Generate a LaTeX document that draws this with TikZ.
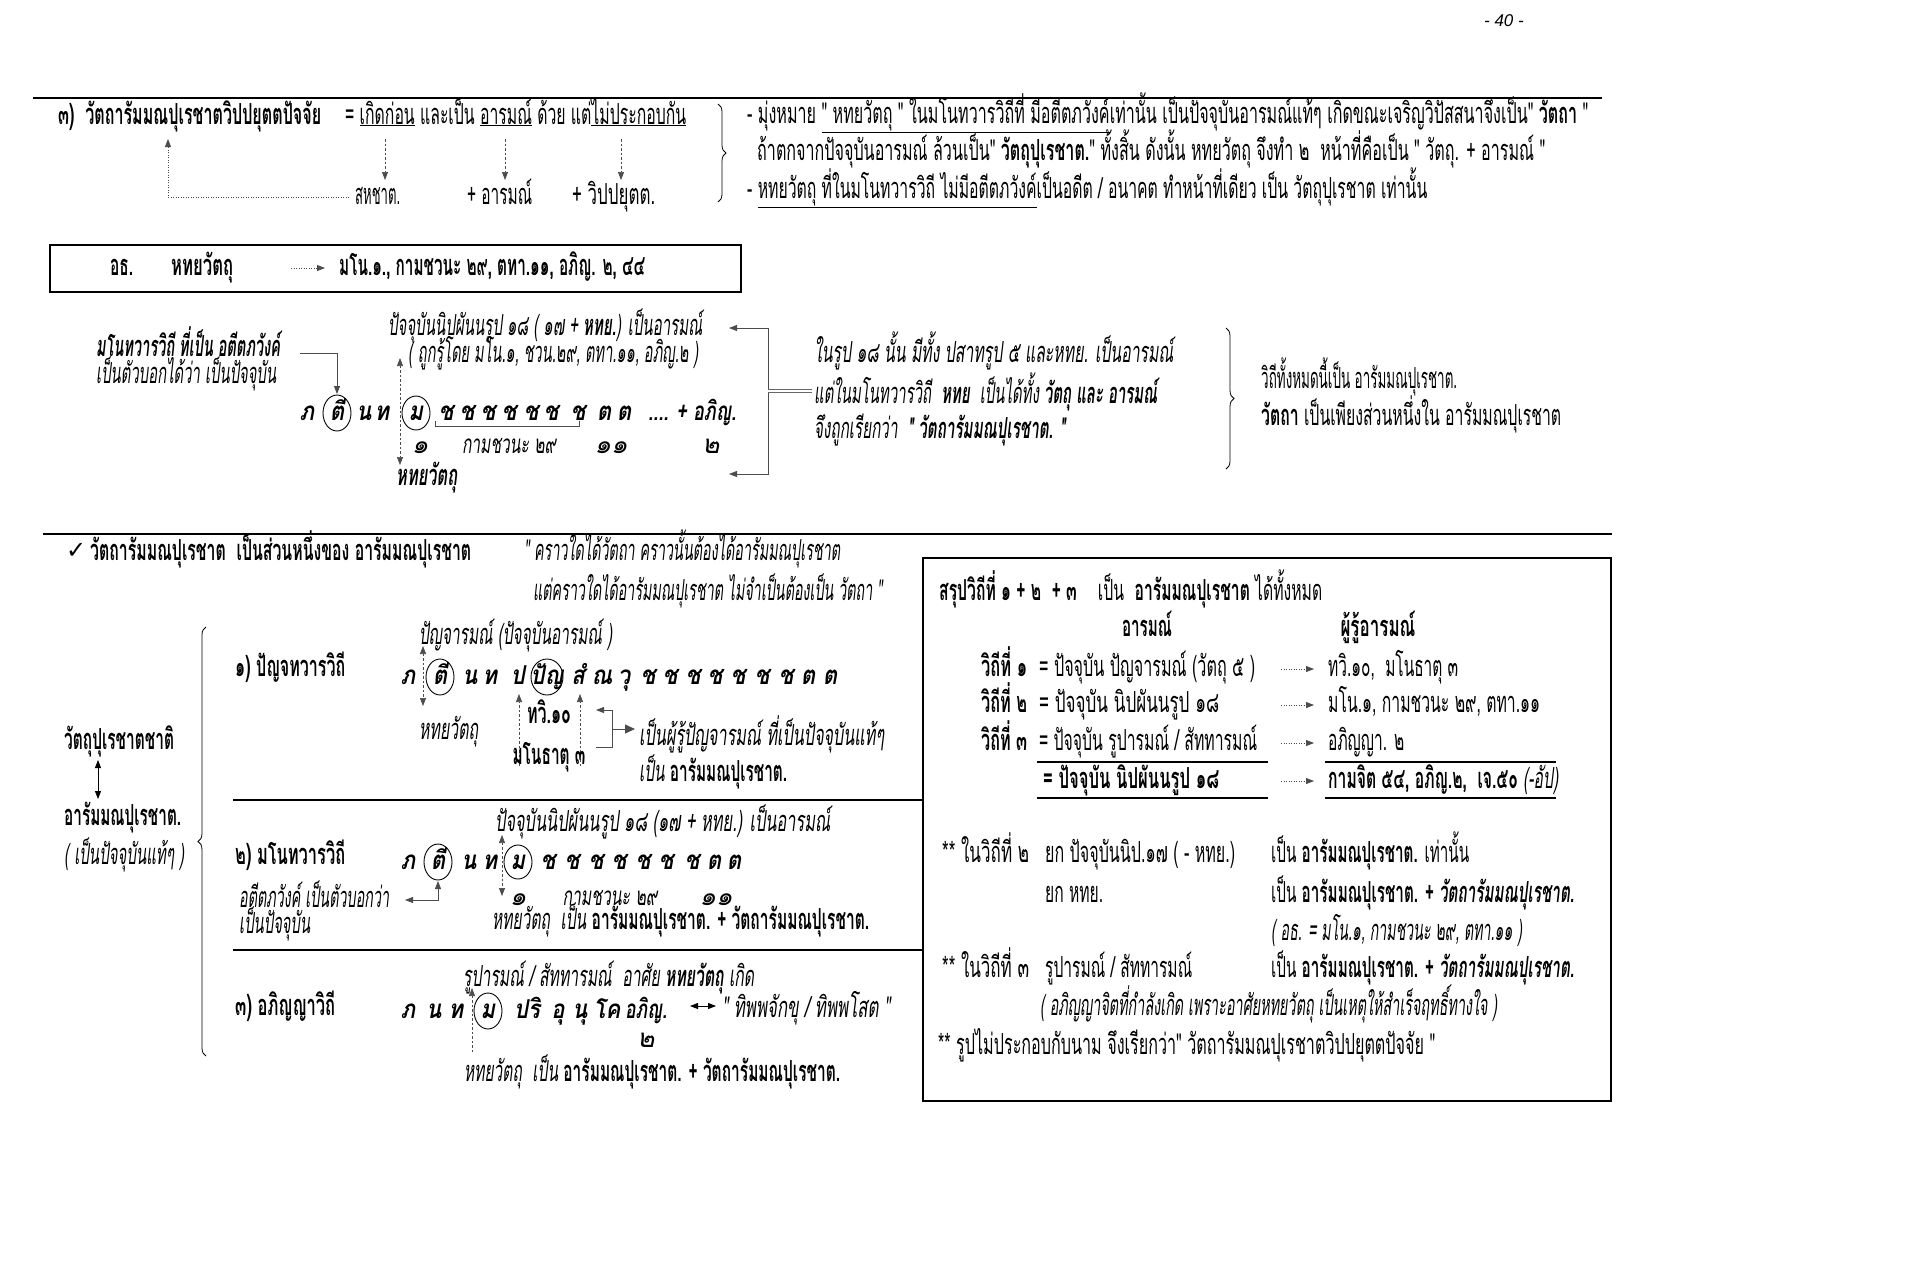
\documentclass[tikz,border=0pt]{standalone}
\usepackage{fontspec}
\usepackage{graphicx}
\usetikzlibrary{arrows.meta,decorations.pathreplacing,calc}
\newfontfamily\thai[Script=Thai]{Loma}
\newfontfamily\dejavu{DejaVu Sans}
\newfontfamily\pgfont{Liberation Sans}
\newcommand\fw[2]{\resizebox{#1pt}{\height}{#2}}
\newcommand\uln[1]{\underline{#1}}
\newcommand\sqz[1]{\scalebox{0.85}[1]{#1}}
\begin{document}
\begin{tikzpicture}[x=1pt,y=-1pt,
  tx/.style={anchor=west, inner sep=0pt, text height=21pt, text depth=7pt, font=\thai\fontsize{29}{34}\selectfont},
  bx/.style={tx, font=\thai\bfseries\fontsize{29}{34}\selectfont},
  ix/.style={tx, font=\thai\itshape\fontsize{29}{34}\selectfont},
  bix/.style={tx, font=\thai\bfseries\itshape\fontsize{29}{34}\selectfont},
  tight/.style={text height=16pt, text depth=6pt},
  nm/.style={ix, anchor=center, font=\thai\itshape\fontsize{26}{30}\selectfont},
  sq/.style={anchor=center, inner sep=0pt, text height=19pt, text depth=5pt, font=\thai\bfseries\itshape\fontsize{26}{30}\selectfont},
  tip/.style={-{Triangle[length=8pt,width=6pt]}},
  both/.style={{Triangle[length=8pt,width=6pt]}-{Triangle[length=8pt,width=6pt]}},
  dsh/.style={dash pattern=on 2.5pt off 2pt, line width=0.7pt, black!70},
  dtt/.style={dash pattern=on 1pt off 1.5pt, line width=0.8pt, black!70},
  thn/.style={line width=0.8pt, black!70},
  rule/.style={line width=2.5pt},
  sep/.style={line width=1.2pt},
  brc/.style={decorate, decoration={brace, amplitude=8pt}, line width=0.8pt},
  ell/.style={line width=0.9pt}]
\useasboundingbox (0,0) rectangle (1920,1262);

% page number
\node[font=\pgfont\itshape\fontsize{17}{20}\selectfont, inner sep=0pt] (pg) at (1504,21) {- 40 -};

% top rule
\coordinate (ra) at (33,98); \coordinate (rb) at (1602,98);
\draw[rule] (ra) -- (rb);

% heading row
\node[bx] (h1) at (58,117) {\fw{263}{๓)\ \ วัตถารัมมณปุเรชาตวิปปยุตตปัจจัย}};
\node[tx] (h2) at (345,117) {\fw{341}{= \uln{เกิดก่อน} และเป็น \uln{อารมณ์} ด้วย แต่\uln{ไม่ประกอบกัน}}};
\node[tx] (sh) at (355,197) {\fw{45}{สหชาต.}};
\node[tx] (ar) at (467,197) {\fw{65}{+ อารมณ์}};
\node[tx] (vp) at (572,197) {\fw{83}{+ วิปปยุตต.}};
\coordinate (a1) at (385,139); \coordinate (a1e) at (385,180);
\coordinate (a2) at (505,139); \coordinate (a2e) at (505,180);
\coordinate (a3) at (621,139); \coordinate (a3e) at (621,180);
\draw[dsh,tip] (a1) -- (a1e);
\draw[dsh,tip] (a2) -- (a2e);
\draw[dsh,tip] (a3) -- (a3e);
\coordinate (ret) at (168,139);
\draw[dtt,tip] ([xshift=-6pt]sh.west) -| (ret);
\coordinate (b1a) at (718,104); \coordinate (b1b) at (718,202);
\draw[brc] (b1a) -- (b1b);

% top right text
\node[tx] (t1) at (747,116) {\fw{841}{- มุ่งหมาย \uln{" หทยวัตถุ " ในมโนทวารวิถีที่ มีอตีตภวังค์}เท่านั้น เป็นปัจจุบันอารมณ์แท้ๆ เกิดขณะเจริญวิปัสสนาจึงเป็น" \textbf{วัตถา} "}};
\node[tx] (t2) at (757,153) {\fw{788}{ถ้าตกจากปัจจุบันอารมณ์ ล้วนเป็น" \textbf{วัตถุปุเรชาต.}" ทั้งสิ้น ดังนั้น หทยวัตถุ จึงทำ ๒ \ หน้าที่คือเป็น " วัตถุ. + อารมณ์ "}};
\node[tx] (t3) at (747,191) {\fw{680}{- \uln{หทยวัตถุ ที่ในมโนทวารวิถี ไม่มีอตีตภวังค์}เป็นอดีต / อนาคต ทำหน้าที่เดียว เป็น วัตถุปุเรชาต เท่านั้น}};

% box
\node[draw, line width=2pt, anchor=north west, minimum width=691pt, minimum height=47pt, inner sep=0pt] (box) at (49,244) {};
\node[bx] (bo1) at (110,268) {\fw{23}{อธ.}};
\node[bx] (bo2) at (171,268) {\fw{62}{หทยวัตถุ}};
\node[bx] (bo3) at (339,268) {\fw{306}{มโน.๑., กามชวนะ ๒๙, ตทา.๑๑, อภิญ. ๒, ๔๔}};
\draw[dtt,tip] ([xshift=-48pt]bo3.west) -- ([xshift=-14pt]bo3.west);

% middle diagram
\node[ix] (m1) at (388,328) {\fw{314}{ปัจจุบันนิปผันนรูป ๑๘ ( ๑๗ + \textbf{หทย.}) เป็นอารมณ์}};
\node[ix] (m2) at (408,355) {\fw{290}{( ถูกรู้โดย มโน.๑, ชวน.๒๙, ตทา.๑๑, อภิญ.๒ )}};
\node[bix,tight] (m3) at (96,351) {\fw{184}{มโนทวารวิถี ที่เป็น อตีตภวังค์}};
\node[ix,tight] (m4) at (96,378) {\fw{180}{เป็นตัวบอกได้ว่า เป็นปัจจุบัน}};
\foreach \n/\x/\t in {1/307/ภ,2/337/ตี,3/364/น,4/382/ท,5/416/ม,6/446/ช,7/467/ช,8/488/ช,9/509/ช,10/531/ช,11/551/ช,12/578/ช,13/604/ต,14/624/ต}
  \node[sq] (s1-\n) at (\x,413) {\sqz{\t}};
\node[sq, anchor=west] (s1-15) at (648,413) {\fw{88}{.... + อภิญ.}};
\draw[ell] (s1-2) ellipse [x radius=14, y radius=18];
\draw[ell] (s1-5) ellipse [x radius=14, y radius=17];
\coordinate (ub1) at (435,421); \coordinate (ub2) at (579,421);
\draw[thn] (ub1) -- ++(0,5) -| (ub2);
\node[nm] (n1a) at (420,446) {๑};
\node[nm] (n1b) at (509,446) {\fw{94}{กามชวนะ ๒๙}};
\node[nm] (n1c) at (611,446) {๑๑};
\node[nm] (n1d) at (711,446) {๒};
\node[bix] (m5) at (396,478) {\fw{61}{หทยวัตถุ}};
\coordinate (v1t) at (400,358); \coordinate (v1b) at (400,465);
\draw[dsh,both] (v1t) -- (v1b);
\coordinate (c1) at (300,353); \coordinate (c1e) at (337,394);
\draw[thn,tip] (c1) -| (c1e);
\coordinate (k1) at (729,328); \coordinate (k2) at (768,328); \coordinate (k3) at (768,474); \coordinate (k4) at (729,474);
\draw[thn,both] (k1) -- (k2) -- (k3) -- (k4);
\coordinate (dl1) at (768,391); \coordinate (dl2) at (812,391);
\draw[black!60, double, double distance=2.5pt, line width=0.5pt] (dl1) -- (dl2);

\node[ix] (r1) at (814,355) {\fw{359}{ในรูป ๑๘ นั้น มีทั้ง ปสาทรูป ๕ และหทย. เป็นอารมณ์}};
\node[ix] (r2) at (814,396) {\fw{343}{แต่ในมโนทวารวิถี \ \textbf{หทย} \ เป็นได้ทั้ง \textbf{วัตถุ และ อารมณ์}}};
\node[ix] (r3) at (814,431) {\fw{251}{จึงถูกเรียกว่า \ \textbf{" วัตถารัมมณปุเรชาต. "}}};
\coordinate (b2a) at (1226,328); \coordinate (b2b) at (1226,469);
\draw[brc] (b2a) -- (b2b);
\node[tx] (r4) at (1261,381) {\fw{196}{วิถีทั้งหมดนี้เป็น อารัมมณปุเรชาต.}};
\node[tx] (r5) at (1261,418) {\fw{300}{\textbf{วัตถา} เป็นเพียงส่วนหนึ่งใน อารัมมณปุเรชาต}};

% second rule
\coordinate (rc) at (43,534); \coordinate (rd) at (1612,534);
\draw[rule] (rc) -- (rd);

% lower section
\node[font=\dejavu\fontsize{24}{26}\selectfont, inner sep=0pt, anchor=west] (ck) at (66,551) {✓};
\node[bx] (l1) at (90,553) {\fw{381}{วัตถารัมมณปุเรชาต \ เป็นส่วนหนึ่งของ อารัมมณปุเรชาต}};
\node[ix] (l2) at (524,553) {\fw{316}{" คราวใดได้วัตถา คราวนั้นต้องได้อารัมมณปุเรชาต}};
\node[ix] (l3) at (533,593) {\fw{349}{แต่คราวใดได้อารัมมณปุเรชาต ไม่จำเป็นต้องเป็น วัตถา "}};

\node[bx] (v1) at (64,742) {\fw{110}{วัตถุปุเรชาตชาติ}};
\node[bx] (v2) at (64,818) {\fw{117}{อารัมมณปุเรชาต.}};
\node[ix] (v3) at (64,857) {\fw{120}{( เป็นปัจจุบันแท้ๆ )}};
\coordinate (va) at (98,760); \coordinate (vb) at (98,799);
\draw[both, line width=0.8pt] (va) -- (vb);
\coordinate (b3a) at (206,1056); \coordinate (b3b) at (206,627);
\draw[brc] (b3a) -- (b3b);

% row 1
\node[bx] (p0) at (235,669) {\fw{110}{๑) ปัญจทวารวิถี}};
\node[ix] (p1) at (419,637) {\fw{193}{ปัญจารมณ์ (ปัจจุบันอารมณ์ )}};
\foreach \n/\x/\t in {1/408/ภ,2/440/ตี,3/470/น,4/490/ท,5/518/ป,6/547/ปัญ,7/578/สํ,8/602/ณ,9/624/วุ,10/648/ช,11/670/ช,12/693/ช,13/715/ช,14/738/ช,15/762/ช,16/786/ช,17/808/ต,18/830/ต}
  \node[sq] (s2-\n) at (\x,677) {\sqz{\t}};
\draw[ell] (s2-2) ellipse [x radius=14, y radius=18];
\draw[ell] (s2-6) ellipse [x radius=16, y radius=18];
\coordinate (w1t) at (423,646); \coordinate (w1b) at (423,706);
\draw[dsh,both] (w1t) -- (w1b);
\node[ix] (p2) at (419,732) {\fw{59}{หทยวัตถุ}};
\coordinate (u1) at (519,766); \coordinate (u1e) at (519,694);
\coordinate (u2) at (580,766); \coordinate (u2e) at (580,694);
\draw[dsh,tip] (u1) -- (u1e);
\draw[dsh,tip] (u2) -- (u2e);
\node[bx, anchor=center] (p3) at (549,716) {\fw{44}{ทวิ.๑๐}};
\node[bx, anchor=center] (p4) at (549,757) {\fw{73}{มโนธาตุ ๓}};
\coordinate (q1) at (596,710); \coordinate (q2) at (612,710); \coordinate (q3) at (612,747); \coordinate (q4) at (596,747);
\draw[thn,{Triangle[length=8pt,width=6pt]}-] (q1) -- (q2) -- (q3) -- (q4);
\coordinate (q5) at (612,729); \coordinate (q6) at (635,729);
\draw[thn,-{Triangle[length=10pt,width=9pt]}] (q5) -- (q6);
\node[ix] (p5) at (639,738) {\fw{245}{เป็นผู้รู้ปัญจารมณ์ ที่เป็นปัจจุบันแท้ๆ}};
\node[ix] (p6) at (639,774) {\fw{148}{เป็น \textbf{\upshape อารัมมณปุเรชาต.}}};

\coordinate (sa) at (233,800); \coordinate (sb) at (922,800);
\draw[sep] (sa) -- (sb);

% row 2
\node[bx] (q0) at (235,857) {\fw{110}{๒) มโนทวารวิถี}};
\node[ix] (qq1) at (495,824) {\fw{335}{ปัจจุบันนิปผันนรูป ๑๘ (๑๗ + หทย.) เป็นอารมณ์}};
\foreach \n/\x/\t in {1/408/ภ,2/438/ตี,3/469/น,4/490/ท,5/518/ม,6/548/ช,7/572/ช,8/596/ช,9/619/ช,10/643/ช,11/666/ช,12/692/ช,13/714/ต,14/734/ต}
  \node[sq] (s3-\n) at (\x,862) {\sqz{\t}};
\draw[ell] (s3-2) ellipse [x radius=14, y radius=18];
\draw[ell] (s3-5) ellipse [x radius=14, y radius=17];
\coordinate (x1t) at (502,835); \coordinate (x1b) at (502,896);
\draw[dsh,both] (x1t) -- (x1b);
\coordinate (y1) at (405,900); \coordinate (y2) at (438,900); \coordinate (y3) at (438,881);
\draw[thn,both] (y1) -- (y2) -- (y3);
\node[ix,tight] (qq2) at (239,902) {\fw{150}{อตีตภวังค์ เป็นตัวบอกว่า}};
\node[ix,tight] (qq3) at (239,928) {\fw{71}{เป็นปัจจุบัน}};
\node[nm] (n2a) at (518,898) {๑};
\node[nm] (n2b) at (610,898) {\fw{95}{กามชวนะ ๒๙}};
\node[nm] (n2c) at (716,898) {๑๑};
\node[tx] (qq4) at (492,922) {\fw{377}{{\itshape หทยวัตถุ \ เป็น} \textbf{อารัมมณปุเรชาต. + วัตถารัมมณปุเรชาต.}}};

\coordinate (sc) at (233,950); \coordinate (sd) at (922,950);
\draw[sep] (sc) -- (sd);

% row 3
\node[bx] (w0) at (235,1008) {\fw{100}{๓) อภิญญาวิถี}};
\node[ix] (ww1) at (463,979) {\fw{291}{รูปารมณ์ / สัททารมณ์ \ อาศัย \textbf{หทยวัตถุ} เกิด}};
\foreach \n/\x/\t in {1/408/ภ,2/434/น,3/456/ท,4/488/ม,5/527/ปริ,6/558/อุ,7/580/นุ,8/607/โค}
  \node[sq] (s4-\n) at (\x,1011) {\sqz{\t}};
\node[sq] (s4-9) at (646,1011) {\fw{42}{อภิญ.}};
\draw[ell] (s4-4) ellipse [x radius=14, y radius=18];
\node[nm] (n3a) at (646,1040) {๒};
\coordinate (z1) at (472,1052); \coordinate (z1e) at (472,988);
\draw[dsh,tip] (z1) -- (z1e);
\coordinate (z2) at (690,1006); \coordinate (z3) at (716,1006);
\draw[both, line width=0.8pt] (z2) -- (z3);
\node[ix] (ww2) at (722,1010) {\fw{168}{" ทิพพจักขุ / ทิพพโสต "}};
\node[tx] (ww3) at (464,1074) {\fw{376}{{\itshape หทยวัตถุ \ เป็น} \textbf{อารัมมณปุเรชาต. + วัตถารัมมณปุเรชาต.}}};

% summary box
\node[draw, line width=2pt, anchor=north west, minimum width=688pt, minimum height=543pt, inner sep=0pt] (sum) at (922,557) {};
\node[tx] (g0) at (939,593) {\fw{383}{\textbf{สรุปวิถีที่ ๑ + ๒ \ + ๓} \quad เป็น \ \textbf{อารัมมณปุเรชาต} ได้ทั้งหมด}};
\node[bx, anchor=center] (g1) at (1147,629) {\fw{50}{อารมณ์}};
\node[bx, anchor=center] (g2) at (1378,629) {\fw{75}{ผู้รู้อารมณ์}};
\node[bx] (g3) at (981,669) {\fw{46}{วิถีที่ ๑}};
\node[tx] (g4) at (1039,669) {\fw{216}{= ปัจจุบัน ปัญจารมณ์ (วัตถุ ๕ )}};
\node[tx] (g5) at (1328,669) {\fw{130}{ทวิ.๑๐, \ มโนธาตุ ๓}};
\draw[dtt,tip] ([xshift=-47pt]g5.west) -- ([xshift=-14pt]g5.west);
\node[bx] (g6) at (981,705) {\fw{46}{วิถีที่ ๒}};
\node[tx] (g7) at (1039,705) {\fw{180}{= ปัจจุบัน นิปผันนรูป ๑๘}};
\node[tx] (g8) at (1328,705) {\fw{212}{มโน.๑, กามชวนะ ๒๙, ตทา.๑๑}};
\draw[dtt,tip] ([xshift=-47pt]g8.west) -- ([xshift=-14pt]g8.west);
\node[bx] (g9) at (981,743) {\fw{46}{วิถีที่ ๓}};
\node[tx] (g10) at (1039,743) {\fw{218}{= ปัจจุบัน รูปารมณ์ / สัททารมณ์}};
\node[tx] (g11) at (1328,743) {\fw{76}{อภิญญา. ๒}};
\draw[dtt,tip] ([xshift=-47pt]g11.west) -- ([xshift=-14pt]g11.west);
\coordinate (L1) at (1037,762); \coordinate (L2) at (1268,762);
\coordinate (L3) at (1325,762); \coordinate (L4) at (1556,762);
\coordinate (L5) at (1037,798); \coordinate (L6) at (1268,798);
\coordinate (L7) at (1325,798); \coordinate (L8) at (1556,798);
\draw[line width=2pt] (L1) -- (L2) (L3) -- (L4) (L5) -- (L6) (L7) -- (L8);
\node[bx] (g12) at (1043,781) {\fw{176}{= ปัจจุบัน นิปผันนรูป ๑๘}};
\node[tx] (g13) at (1328,781) {\fw{230}{\textbf{กามจิต ๕๔, อภิญ.๒, \ เจ.๕๐} {\itshape (-อัป)}}};
\draw[dtt,tip] ([xshift=-47pt]g13.west) -- ([xshift=-14pt]g13.west);

\node[tx] (g14) at (942,855) {\fw{87}{** ในวิถีที่ ๒}};
\node[tx] (g15) at (1045,855) {\fw{190}{ยก ปัจจุบันนิป.๑๗ ( - หทย.)}};
\node[tx] (g16) at (1271,855) {\fw{198}{เป็น \textbf{อารัมมณปุเรชาต.} เท่านั้น}};
\node[tx] (g17) at (1045,895) {\fw{58}{ยก หทย.}};
\node[tx] (g18) at (1271,895) {\fw{303}{เป็น \textbf{อารัมมณปุเรชาต. + {\itshape วัตถารัมมณปุเรชาต.}}}};
\node[ix] (g19) at (1271,933) {\fw{251}{( อธ. = มโน.๑, กามชวนะ ๒๙, ตทา.๑๑ )}};
\node[tx] (g20) at (942,970) {\fw{87}{** ในวิถีที่ ๓}};
\node[tx] (g21) at (1045,970) {\fw{147}{รูปารมณ์ / สัททารมณ์}};
\node[tx] (g22) at (1271,970) {\fw{303}{เป็น \textbf{อารัมมณปุเรชาต. + {\itshape วัตถารัมมณปุเรชาต.}}}};
\node[ix] (g23) at (1040,1008) {\fw{457}{( อภิญญาจิตที่กำลังเกิด เพราะอาศัยหทยวัตถุ เป็นเหตุให้สำเร็จฤทธิ์ทางใจ )}};
\node[tx] (g24) at (938,1047) {\fw{497}{** รูปไม่ประกอบกับนาม จึงเรียกว่า" วัตถารัมมณปุเรชาตวิปปยุตตปัจจัย "}};
\end{tikzpicture}
\end{document}
